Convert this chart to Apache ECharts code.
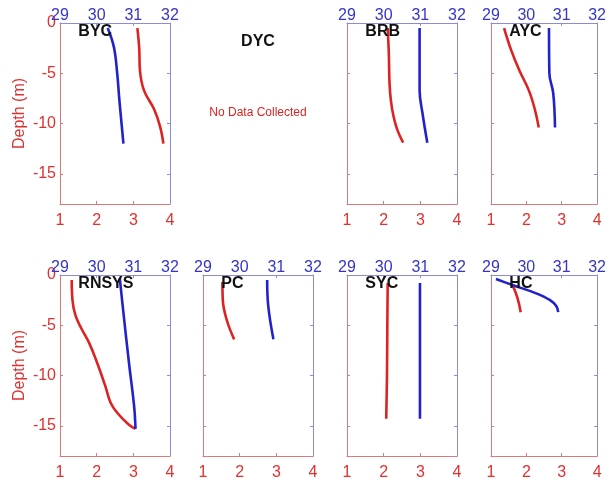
<!DOCTYPE html>
<html><head><meta charset="utf-8">
<script src="https://cdn.jsdelivr.net/npm/echarts@6/dist/echarts.min.js"></script>
<style>html,body{margin:0;padding:0;background:#fff}#c{width:609px;height:482px}</style>
</head><body><div id="c"></div>
<script>
// Station names (panel order: row 1 then row 2)
const stations = ['BYC', 'DYC', 'BRB', 'AYC', 'RNSYS', 'PC', 'SYC', 'HC'];
const noDataText = 'No Data Collected';
const depthTicks = [0, -5, -10, -15];
const bottomTicks = [1, 2, 3, 4];
const topTicks = [29, 30, 31, 32];

// Red profiles (bottom axis, 1-4): [value, depth m]
const redBYC = [[3.11,-0.5],[3.16,-2.5],[3.18,-4.7],[3.29,-6.7],[3.57,-8.6],[3.73,-10.3],[3.82,-12.0]];
const redBRB = [[2.11,-0.5],[2.14,-3.0],[2.16,-6.0],[2.20,-7.8],[2.27,-9.3],[2.37,-10.6],[2.53,-11.9]];
const redAYC = [[1.37,-0.5],[1.57,-2.7],[1.80,-4.7],[2.07,-6.7],[2.24,-8.6],[2.35,-10.4]];
const redRNSYS = [[1.32,-0.5],[1.34,-2.5],[1.42,-4.0],[1.58,-5.3],[1.80,-6.8],[2.01,-8.7],[2.24,-11.1],[2.38,-12.7],[2.56,-13.7],[2.88,-14.9],[3.06,-15.3]];
const redPC = [[1.53,-0.7],[1.54,-2.5],[1.65,-4.5],[1.85,-6.4]];
const redSYC = [[2.11,-0.8],[2.10,-5.0],[2.09,-10.0],[2.07,-14.3]];
const redHC = [[1.61,-1.0],[1.75,-2.3],[1.84,-3.7]];

// Blue profiles (top axis, 29-32): [value, depth m]
const blueBYC = [[30.30,-0.5],[30.47,-2.4],[30.56,-5.0],[30.62,-7.7],[30.73,-12.0]];
const blueBRB = [[30.98,-0.5],[30.98,-3.5],[30.98,-6.7],[31.06,-9.0],[31.19,-11.9]];
const blueAYC = [[30.64,-0.5],[30.65,-5.0],[30.76,-7.0],[30.81,-10.4]];
const blueRNSYS = [[30.63,-0.3],[30.74,-4.1],[30.88,-8.7],[31.02,-13.0],[31.06,-15.3]];
const bluePC = [[30.75,-0.5],[30.78,-3.1],[30.92,-6.4]];
const blueSYC = [[30.99,-0.8],[30.99,-5.0],[30.99,-10.0],[30.99,-14.3]];
const blueHC = [[29.14,-0.4],[29.61,-1.0],[30.26,-1.8],[30.67,-2.5],[30.85,-3.1],[30.90,-3.7]];

const redData = {BYC: redBYC, BRB: redBRB, AYC: redAYC, RNSYS: redRNSYS, PC: redPC, SYC: redSYC, HC: redHC};
const blueData = {BYC: blueBYC, BRB: blueBRB, AYC: blueAYC, RNSYS: blueRNSYS, PC: bluePC, SYC: blueSYC, HC: blueHC};

const RED = '#dd2222', BLUE = '#2222cc';
const RED_LBL = '#e03030', BLUE_LBL = '#3535c8';
const RED_AX = '#d87a7a', BLUE_AX = '#8c8cd6';
const FONT = '"Liberation Sans", Arial, sans-serif';

const colLeft = [60, 203, 347, 491];
const rowTop = [23, 275];
const W = 110, H = 181;

const option = {
  animation: false,
  backgroundColor: '#fff',
  grid: [], xAxis: [], yAxis: [], series: [], title: []
};

let gi = 0;
stations.forEach((name, idx) => {
  const r = Math.floor(idx / 4), c = idx % 4;
  const L = colLeft[c], T = rowTop[r];
  if (name === 'DYC') {
    option.title.push({text: name, left: L + W/2, top: T + 11, textAlign: 'center', padding: 0,
      textStyle: {fontFamily: FONT, fontSize: 16, fontWeight: 'bold', color: '#111'}});
    option.title.push({text: noDataText, left: L + W/2, top: T + 84, textAlign: 'center', padding: 0,
      textStyle: {fontFamily: FONT, fontSize: 12, fontWeight: 'normal', color: RED}});
    return;
  }
  option.grid.push({left: L, top: T, width: W, height: H, containLabel: false});
  const first = c === 0;
  option.xAxis.push({
    gridIndex: gi, type: 'value', position: 'bottom', min: 1, max: 4, interval: 1,
    axisLine: {onZero: false, lineStyle: {color: RED_AX, width: 1}},
    axisTick: {inside: true, length: 3, lineStyle: {color: RED_AX}, customValues: bottomTicks.slice(1, -1)},
    axisLabel: {color: RED_LBL, fontSize: 16, fontFamily: FONT, margin: 9, customValues: bottomTicks},
    splitLine: {show: false}
  });
  option.xAxis.push({
    gridIndex: gi, type: 'value', position: 'top', min: 29, max: 32, interval: 1,
    axisLine: {onZero: false, lineStyle: {color: BLUE_AX, width: 1}},
    axisTick: {inside: true, length: 3, lineStyle: {color: BLUE_AX}, customValues: topTicks.slice(1, -1)},
    axisLabel: {color: BLUE_LBL, fontSize: 16, fontFamily: FONT, margin: -1, customValues: topTicks},
    splitLine: {show: false}
  });
  option.yAxis.push({
    gridIndex: gi, type: 'value', position: 'left', min: -18, max: 0,
    name: first ? 'Depth (m)' : '', nameLocation: 'middle', nameGap: 32, nameRotate: 90,
    nameTextStyle: {color: RED_LBL, fontSize: 16, fontFamily: FONT},
    axisLine: {onZero: false, lineStyle: {color: RED_AX, width: 1}},
    axisTick: {show: true, inside: true, length: 3, lineStyle: {color: RED_AX}, customValues: depthTicks.slice(1)},
    axisLabel: {show: first, color: RED_LBL, fontSize: 16, fontFamily: FONT, margin: 4, customValues: depthTicks},
    splitLine: {show: false}
  });
  option.yAxis.push({
    gridIndex: gi, type: 'value', position: 'right', min: -18, max: 0,
    axisLine: {show: true, onZero: false, lineStyle: {color: BLUE_AX, width: 1}},
    axisTick: {show: true, inside: true, length: 3, lineStyle: {color: BLUE_AX}, customValues: depthTicks.slice(1)},
    axisLabel: {show: false},
    splitLine: {show: false}
  });
  option.series.push({
    type: 'line', xAxisIndex: gi*2, yAxisIndex: gi*2, data: redData[name],
    showSymbol: false, smooth: 0.4, lineStyle: {color: RED, width: 2.6}, z: 3
  });
  option.series.push({
    type: 'line', xAxisIndex: gi*2+1, yAxisIndex: gi*2+1, data: blueData[name],
    showSymbol: false, smooth: 0.4, lineStyle: {color: BLUE, width: 2.6}, z: 4
  });
  option.title.push({text: name, left: L + W/6, top: T + 1, padding: 0,
    textStyle: {fontFamily: FONT, fontSize: 16, fontWeight: 'bold', color: '#111'}, z: 10});
  gi++;
});

const chart = echarts.init(document.getElementById('c'), null, {renderer: 'canvas'});
chart.setOption(option);
</script></body></html>
